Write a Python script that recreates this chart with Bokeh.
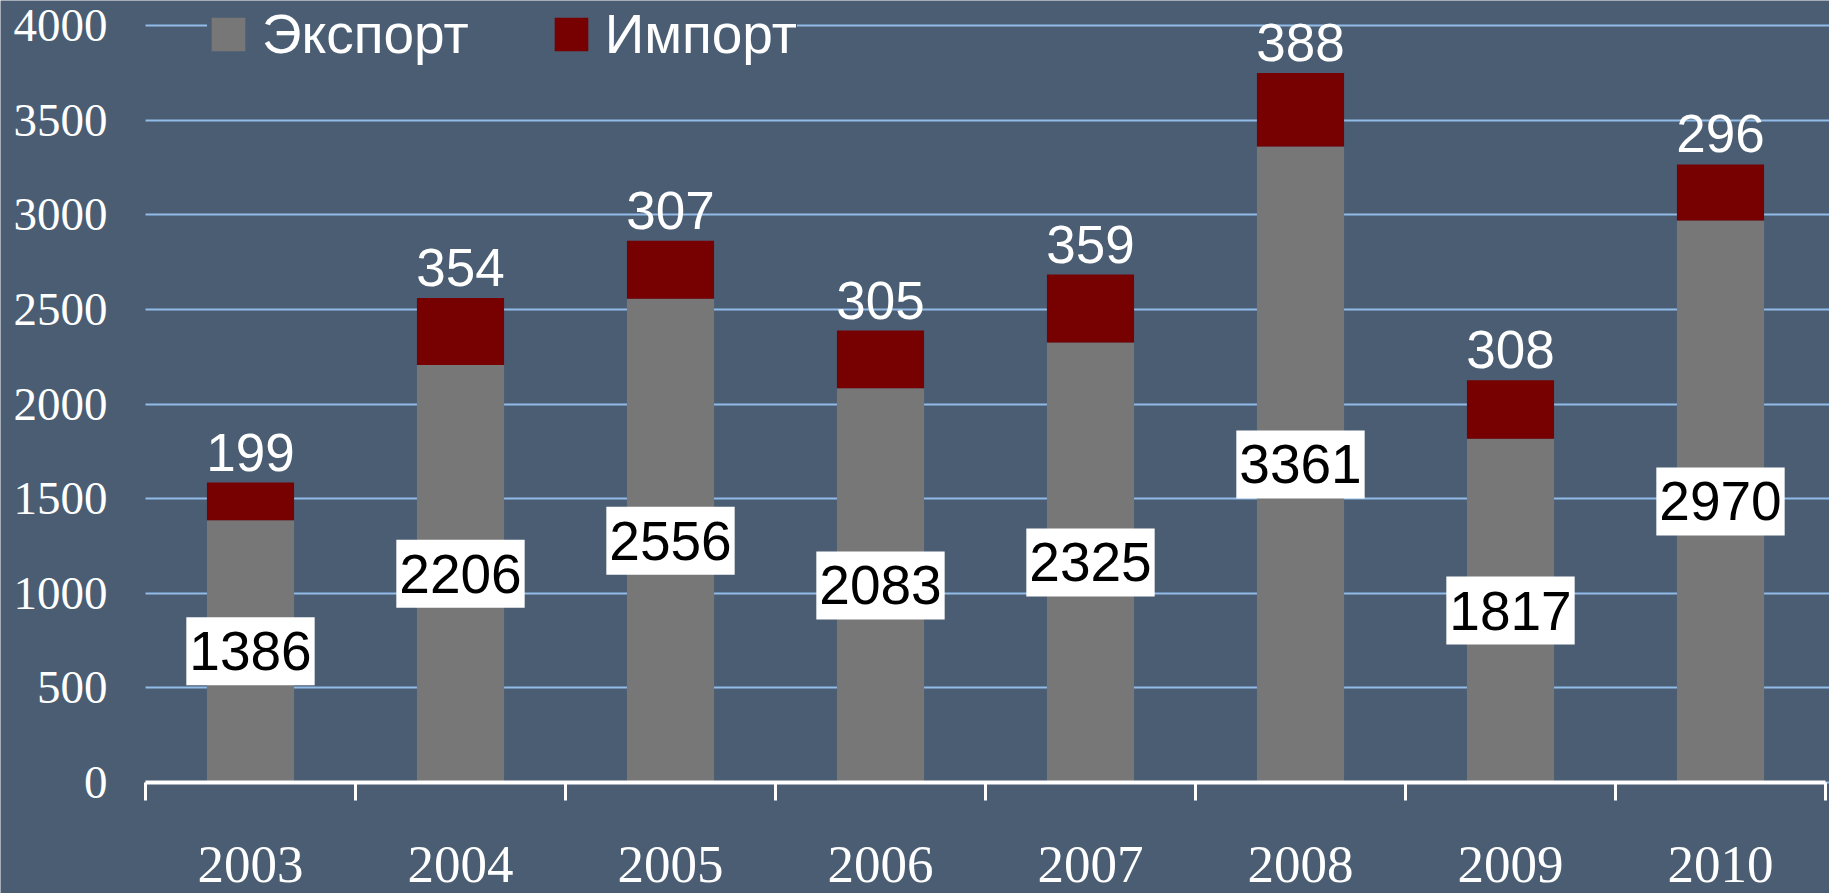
from bokeh.plotting import figure
from bokeh.models import (ColumnDataSource, FixedTicker, LabelSet, Legend, LegendItem,
                          Range1d, CustomJSTickFormatter, Text, Grid)
from bokeh.core.properties import value
from bokeh.embed import file_html
from bokeh.resources import INLINE

years = ["2003", "2004", "2005", "2006", "2007", "2008", "2009", "2010"]
export = [1386, 2206, 2556, 2083, 2325, 3361, 1817, 2970]
imports = [199, 354, 307, 305, 359, 388, 308, 296]
y_ticks = [0, 500, 1000, 1500, 2000, 2500, 3000, 3500, 4000]

n = len(years)
xpos = [i + 0.5 for i in range(n)]
total = [e + m for e, m in zip(export, imports)]
mid = [e / 2 for e in export]

src = ColumnDataSource(dict(x=xpos, export=export, imp=imports, total=total, mid=mid,
                            elab=[str(v) for v in export], ilab=[str(v) for v in imports]))

BG = "#4a5d73"
W, H = 1829, 893
LEFT, CAT = 145, 210          # px: plot-area left edge, px per category
px_per_unit = 757 / 4000      # y scale
y_end = 4000 + 25 / px_per_unit
y_start = -111 / px_per_unit

full_frame = "cross_bounds" in Grid.properties()
if full_frame:
    x_range = Range1d(-LEFT / CAT, n + (W - LEFT - n * CAT) / CAT)
    borders = dict(min_border_left=0, min_border_right=0)
else:
    x_range = Range1d(0, n)
    borders = dict(min_border_left=LEFT, min_border_right=W - LEFT - n * CAT)

p = figure(width=W, height=H, x_range=x_range, y_range=Range1d(y_start, y_end),
           output_backend="svg", toolbar_location=None,
           min_border_top=0, min_border_bottom=0, **borders)
p.background_fill_color = BG
p.border_fill_color = BG
p.outline_line_color = None

r1 = p.vbar(x='x', top='export', bottom=0, width=0.415, fill_color="#777777",
            line_color=None, source=src)
r2 = p.vbar(x='x', bottom='export', top='total', width=0.415, fill_color="#770000",
            line_color=None, source=src)

p.xgrid.visible = False
p.ygrid.ticker = FixedTicker(ticks=y_ticks)
p.ygrid.grid_line_color = "#92bbe8"
p.ygrid.grid_line_width = 2
if full_frame:
    p.ygrid.cross_bounds = (0, x_range.end)

yax = p.yaxis[0]
if full_frame:
    yax.fixed_location = 0
yax.ticker = FixedTicker(ticks=y_ticks)
yax.axis_line_color = None
yax.major_tick_line_color = None
yax.minor_tick_line_color = None
yax.major_tick_out = 0
yax.major_tick_in = 0
yax.major_label_standoff = 38
yax.major_label_text_font = "Liberation Serif"
yax.major_label_text_font_size = "47px"
yax.major_label_text_color = "white"

xax = p.xaxis[0]
xax.fixed_location = 0
xax.ticker = FixedTicker(ticks=xpos, minor_ticks=list(range(n + 1)))
xax.formatter = CustomJSTickFormatter(args=dict(years=years),
                                      code="return years[Math.floor(tick)];")
xax.axis_line_color = "white"
xax.axis_line_width = 4
xax.major_tick_line_color = None
xax.major_tick_out = 18
xax.major_tick_in = 0
xax.minor_tick_line_color = "white"
xax.minor_tick_line_width = 3
xax.minor_tick_out = 18
xax.minor_tick_in = 0
xax.major_label_standoff = 46
xax.major_label_text_font = "Liberation Serif"
xax.major_label_text_font_size = "53px"
xax.major_label_text_color = "white"
if full_frame:
    xax.bounds = (0, n)

text_props = Text.properties()
if "padding" in text_props and "background_fill_color" in text_props:
    p.text(x='x', y='mid', text='elab', source=src, text_align="center",
           text_baseline="middle", text_font=value("Liberation Sans"),
           text_font_size="55px", text_color="black",
           background_fill_color="white", padding=(3, 15))
else:
    p.add_layout(LabelSet(x='x', y='mid', text='elab', source=src, text_align="center",
                          text_baseline="middle", text_font=value("Liberation Sans"),
                          text_font_size="55px", text_color="black",
                          background_fill_color="white"))

lab_i = LabelSet(x='x', y='total', text='ilab', source=src, text_align="center",
                 text_baseline="bottom", y_offset=12, text_font=value("Liberation Sans"),
                 text_font_size="53px", text_color="white")
p.add_layout(lab_i)

legend = Legend(items=[LegendItem(label="Экспорт", renderers=[r1]),
                       LegendItem(label="Импорт", renderers=[r2])],
                orientation="horizontal",
                location=(207 if full_frame else 62, 827),
                label_text_font="Liberation Sans", label_text_font_size="55px",
                label_text_color="white", glyph_width=42, glyph_height=42,
                label_standoff=13, spacing=81, padding=0, margin=0,
                background_fill_color=BG, background_fill_alpha=1.0,
                border_line_color=None)
p.add_layout(legend)

open("out.html", "w").write(file_html(p, INLINE))
